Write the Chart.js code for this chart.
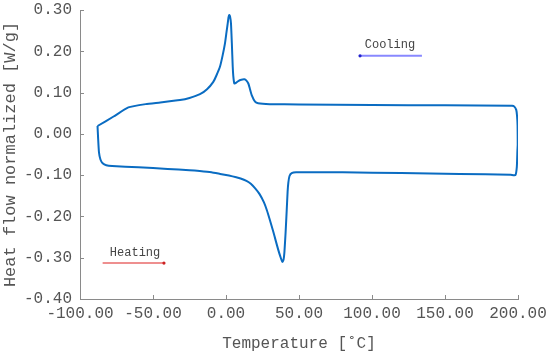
<!DOCTYPE html>
<html>
<head>
<meta charset="utf-8">
<script src="https://cdn.jsdelivr.net/npm/chart.js@4.4.1/dist/chart.umd.min.js"></script>
<style>
  html,body{margin:0;padding:0;background:#fff;}
  #wrap{width:550px;height:355px;position:relative;}
</style>
</head>
<body>
<div id="wrap"><canvas id="c"></canvas></div>
<script>
// DSC loop: heating (bottom, left->right) then cooling (top, right->left)
const temperature = [
  -88.0, -87.6, -87.0, -86.0, -84.5, -82, -78, -60, -40, -25, -18, -10, -4, 2, 7, 10, 14, 17, 20, 23, 26, 28, 30, 32.4, 34, 35.8, 37.3, 38.6, 39.4, 40, 40.8, 41.6, 42.2, 42.7, 43.5, 45, 48, 80, 120, 160, 195, 198.2,
  199.2, 199.6, 199.8, 199.7, 199.3, 198.8, 197.5, 196,
  150, 100, 50, 30, 22, 19.9, 17.6, 16.3, 15.3, 14, 12.6, 10.5, 8.4, 6.5, 5.7, 5.0, 4.6, 4.0, 3.4, 2.8, 2.3, 1.7, 1.2, 0.3, -0.7, -2.3, -4.1, -6.5, -8.7, -13, -17.8, -25, -31.5, -45, -55, -66.9, -77, -88.0
];
const heatFlow = [
  0.019, -0.010, -0.045, -0.062, -0.071, -0.076, -0.078, -0.081, -0.085, -0.088, -0.090, -0.093, -0.097, -0.101, -0.105, -0.108, -0.114, -0.121, -0.132, -0.146, -0.166, -0.185, -0.208, -0.237, -0.258, -0.281, -0.298, -0.310, -0.305, -0.287, -0.240, -0.184, -0.140, -0.118, -0.102, -0.095, -0.093, -0.093, -0.095, -0.097, -0.099, -0.100,
  -0.080, -0.040, -0.027, 0.020, 0.045, 0.058, 0.066, 0.068,
  0.069, 0.070, 0.071, 0.072, 0.074, 0.078, 0.094, 0.110, 0.122, 0.129, 0.132, 0.131, 0.128, 0.123, 0.122, 0.140, 0.163, 0.220, 0.268, 0.284, 0.288, 0.282, 0.268, 0.245, 0.219, 0.190, 0.163, 0.142, 0.126, 0.108, 0.096, 0.087, 0.082, 0.076, 0.072, 0.064, 0.042, 0.019
];
// Annotation arrows (data coordinates)
const coolingArrowT = [134.2, 91.8];
const coolingArrowH = [0.189, 0.189];
const heatingArrowT = [-84.5, -42.5];
const heatingArrowH = [-0.313, -0.313];
const annotationLabels = ["Cooling", "Heating"];
const annotationLabelT = [112.3, -62.3];
const annotationLabelH = [0.215, -0.289];
// Axis ticks
const xTicks = [-100, -50, 0, 50, 100, 150, 200];
const yTicks = [-0.40, -0.30, -0.20, -0.10, 0.00, 0.10, 0.20, 0.30];

const FONT = "'Liberation Mono', 'DejaVu Sans Mono', monospace";
const TXT = '#555555';
const AX = '#8a8a8a';

const toPts = (xs, ys) => xs.map((x, i) => ({x: x, y: ys[i]}));

const innerTicks = {
  id: 'innerTicks',
  afterDraw(chart) {
    const {ctx, chartArea} = chart;
    const xs = chart.scales.x, ys = chart.scales.y;
    ctx.save();
    ctx.strokeStyle = AX;
    ctx.lineWidth = 1;
    xTicks.forEach(v => {
      const px = Math.round(xs.getPixelForValue(v)) + 0.5;
      ctx.beginPath(); ctx.moveTo(px, chartArea.bottom); ctx.lineTo(px, chartArea.bottom - 4); ctx.stroke();
    });
    yTicks.forEach(v => {
      const py = Math.round(ys.getPixelForValue(v)) + 0.5;
      ctx.beginPath(); ctx.moveTo(chartArea.left, py); ctx.lineTo(chartArea.left + 4, py); ctx.stroke();
    });
    // annotation labels
    ctx.fillStyle = '#444';
    ctx.font = "12px " + FONT;
    ctx.textAlign = 'center';
    ctx.textBaseline = 'middle';
    annotationLabels.forEach((t, i) => {
      ctx.fillText(t, xs.getPixelForValue(annotationLabelT[i]), ys.getPixelForValue(annotationLabelH[i]));
    });
    ctx.restore();
  }
};

new Chart(document.getElementById('c'), {
  type: 'scatter',
  data: {
    datasets: [
      {
        data: toPts(temperature, heatFlow),
        showLine: true,
        borderColor: '#0a6cc2',
        borderWidth: 2,
        pointRadius: 0,
        tension: 0.15,
        fill: false
      },
      {
        data: toPts(coolingArrowT, coolingArrowH),
        showLine: true,
        borderColor: '#8888ff',
        borderWidth: 2,
        pointRadius: [0, 1.6],
        pointBackgroundColor: '#2222cc',
        pointBorderWidth: 0
      },
      {
        data: toPts(heatingArrowT, heatingArrowH),
        showLine: true,
        borderColor: '#e86a6a',
        borderWidth: 1.5,
        pointRadius: [0, 1.6],
        pointBackgroundColor: '#cc2222',
        pointBorderWidth: 0
      }
    ]
  },
  options: {
    responsive: true,
    maintainAspectRatio: false,
    animation: false,
    layout: { padding: { left: 0, right: 32, top: 10, bottom: 0 } },
    plugins: { legend: { display: false }, tooltip: { enabled: false } },
    scales: {
      x: {
        type: 'linear',
        min: -100, max: 200,
        afterBuildTicks: s => { s.ticks = xTicks.map(v => ({value: v})); },
        afterFit: s => { s.height = 56; s.paddingLeft = 0; s.paddingRight = 0; },
        ticks: {
          color: TXT, font: { family: FONT, size: 16 }, padding: 5, maxRotation: 0, autoSkip: false,
          callback: v => (Math.abs(v) < 1e-9 ? 0 : v).toFixed(2)
        },
        grid: { drawOnChartArea: false, drawTicks: false },
        border: { display: true, color: AX, width: 1 },
        title: { display: true, text: 'Temperature [\u02DAC]', color: TXT, font: { family: FONT, size: 16 }, padding: { top: 0, bottom: 2 } }
      },
      y: {
        type: 'linear',
        min: -0.4, max: 0.3,
        afterBuildTicks: s => { s.ticks = yTicks.map(v => ({value: v})); },
        afterFit: s => { s.width = 80; s.paddingTop = 0; s.paddingBottom = 0; },
        ticks: {
          color: TXT, font: { family: FONT, size: 16 }, padding: 8, autoSkip: false,
          callback: v => (Math.abs(v) < 1e-9 ? 0 : v).toFixed(2)
        },
        grid: { drawOnChartArea: false, drawTicks: false },
        border: { display: true, color: AX, width: 1 },
        title: { display: true, text: 'Heat flow normalized [W/g]', color: TXT, font: { family: FONT, size: 17 }, padding: { top: 0, bottom: 0 } }
      }
    }
  },
  plugins: [innerTicks]
});
</script>
</body>
</html>
